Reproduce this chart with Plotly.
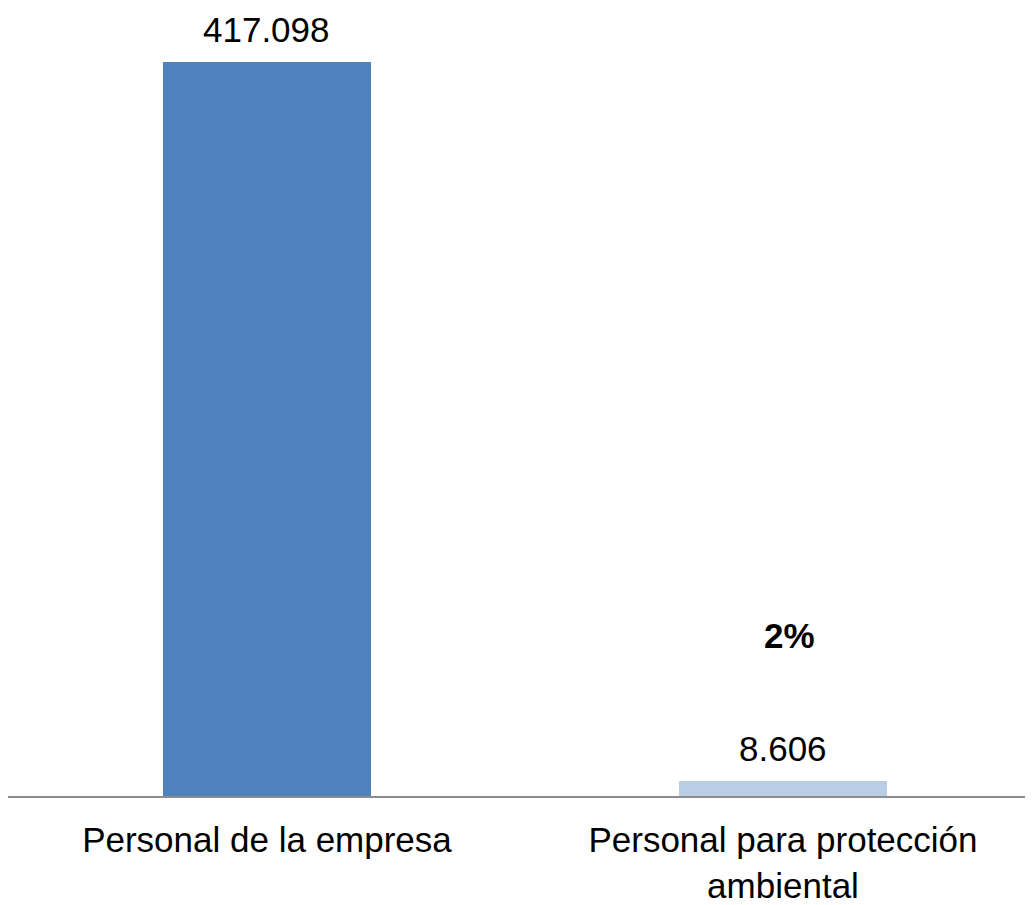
import plotly.graph_objects as go

categories = ["Personal de la empresa", "Personal para protección<br>ambiental"]
values = [417098, 8606]
bar_colors = ["#4F81BD", "#B9CDE5"]

FONT = "Liberation Sans, Arial, sans-serif"
FS = 35

share = round(100 * values[1] / sum(values))

fig = go.Figure()
fig.add_trace(go.Bar(
    x=categories, y=values,
    marker=dict(color=bar_colors, line=dict(width=0)),
    width=0.403,
    hoverinfo="skip",
))

annotations = []
for c, v in zip(categories, values):
    annotations.append(dict(
        x=c, y=v, xref="x", yref="y", text=f"{v:,}".replace(",", "."),
        showarrow=False, yanchor="bottom", yshift=11,
        font=dict(family=FONT, size=FS, color="#000000"),
    ))
annotations.append(dict(
    x=categories[1], y=values[1], xref="x", yref="y", text=f"<b>{share}%</b>",
    showarrow=False, yanchor="bottom", yshift=124, xshift=7,
    font=dict(family=FONT, size=FS, color="#000000"),
))

fig.update_layout(
    width=1025, height=897,
    margin=dict(l=0, r=0, t=0, b=103),
    paper_bgcolor="white", plot_bgcolor="white",
    showlegend=False,
    annotations=annotations,
    bargap=0,
    xaxis=dict(
        type="category",
        range=[-0.5019, 1.4845],
        showline=True, linecolor="#8C8C8C", linewidth=2,
        showgrid=False, zeroline=False, ticks="",
        ticklabelstandoff=12,
        tickfont=dict(family=FONT, size=FS, color="#000000"),
        fixedrange=True,
    ),
    yaxis=dict(
        range=[0, 447537], visible=False, showgrid=False, zeroline=False,
        fixedrange=True,
    ),
)

fig.write_html("out.html")
